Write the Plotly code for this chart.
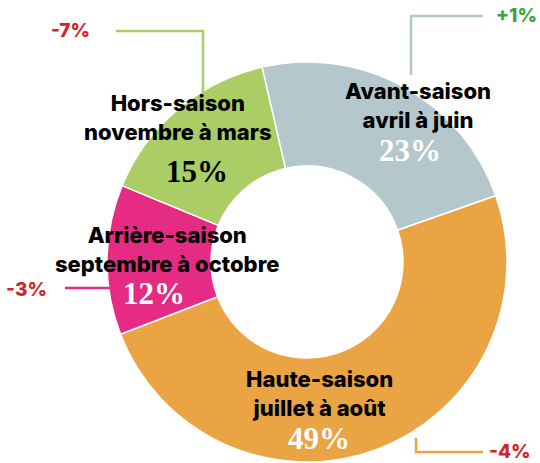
import plotly.graph_objects as go

W, H = 540, 463

seasons = ["Avant-saison", "Haute-saison", "Arrière-saison", "Hors-saison"]
periods = ["avril à juin", "juillet à août", "septembre à octobre", "novembre à mars"]
shares = [23, 49, 12, 15]
changes = ["+1%", "-4%", "-3%", "-7%"]

colors = ["#b4c7cd", "#eaa443", "#e52b83", "#aacd66"]
pct_colors = ["white", "white", "white", "black"]
change_colors = ["#3aa63a", "#d42229", "#d42229", "#d42229"]

# text positions in pixels from the top-left corner
label_pos = [(418, 105), (319, 393), (167, 250), (178, 118)]
pct_pos = [(410, 150), (319, 438), (154, 293), (197, 172)]
change_pos = [(516, 16), (510, 451), (26, 289), (70, 30)]
leaders = [
    [(483, 16), (411, 16), (411, 75)],
    [(416, 438), (416, 452), (483, 452)],
    [(65, 288), (118, 288)],
    [(116, 31), (203, 31), (203, 97)],
]


def px(x, y):
    return x / W, 1 - y / H


fig = go.Figure(go.Pie(
    labels=seasons,
    values=shares,
    hole=0.48,
    sort=False,
    direction="clockwise",
    rotation=-13,
    marker=dict(colors=colors, line=dict(color="white", width=1.5)),
    textinfo="none",
    hoverinfo="label+percent",
    domain=dict(x=[107 / W, 507 / W], y=[1 / H, 401 / H]),
    showlegend=False,
))

for i in range(len(seasons)):
    # leader line in the slice colour
    pts = leaders[i]
    path = "M " + " L ".join(f"{px(x, y)[0]},{px(x, y)[1]}" for x, y in pts)
    fig.add_shape(type="path", path=path, xref="paper", yref="paper",
                  line=dict(color=colors[i], width=2.5))

    x, y = px(*label_pos[i])
    fig.add_annotation(
        x=x, y=y, xref="paper", yref="paper", showarrow=False,
        text=f"{seasons[i]}<br>{periods[i]}",
        font=dict(family="Inter", size=22, color="black", weight=800),
        align="center", xanchor="center", yanchor="middle",
    )
    x, y = px(*pct_pos[i])
    fig.add_annotation(
        x=x, y=y, xref="paper", yref="paper", showarrow=False,
        text=f"<b>{shares[i]}%</b>",
        font=dict(family="Liberation Serif", size=31, color=pct_colors[i]),
        xanchor="center", yanchor="middle",
    )
    x, y = px(*change_pos[i])
    fig.add_annotation(
        x=x, y=y, xref="paper", yref="paper", showarrow=False,
        text=changes[i],
        font=dict(family="Inter", size=19, color=change_colors[i], weight=800),
        xanchor="center", yanchor="middle",
    )

fig.update_layout(
    width=W, height=H,
    margin=dict(l=0, r=0, t=0, b=0),
    paper_bgcolor="white",
    plot_bgcolor="white",
)
# drop the default body margin so the figure sits at the window's corner
fig.write_html(
    "out.html",
    config={"displayModeBar": False},
    post_script="document.body.style.margin='0';",
)
